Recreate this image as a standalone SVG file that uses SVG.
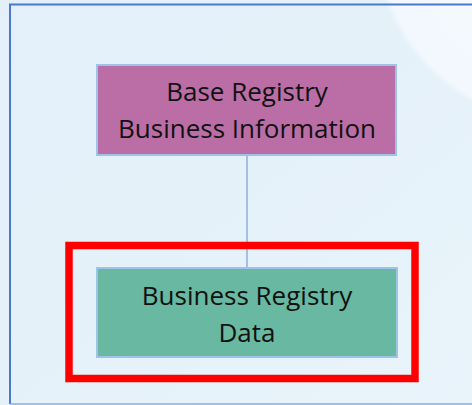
<svg xmlns="http://www.w3.org/2000/svg" width="472" height="405" viewBox="0 0 472 405">
<defs>
<linearGradient id="bg" x1="0" y1="0" x2="1" y2="1">
<stop offset="0" stop-color="#e3f0f9"/>
<stop offset="1" stop-color="#e8f3fa"/>
</linearGradient>
<radialGradient id="glow" cx="560" cy="-60" r="185" gradientUnits="userSpaceOnUse">
<stop offset="0" stop-color="#f7fbfe"/>
<stop offset="0.97" stop-color="#f2f8fd"/>
<stop offset="1" stop-color="#f2f8fd" stop-opacity="0"/>
</radialGradient>
</defs>
<style>
.node{stroke:#9dc3e6;stroke-width:2}
.lbl{font-family:"Open Sans","Liberation Sans",sans-serif;font-size:26px;fill:#111;text-anchor:middle}
</style>
<rect x="0" y="0" width="472" height="405" fill="url(#bg)"/>
<rect x="0" y="0" width="472" height="405" fill="url(#glow)"/>
<path d="M10 404 V4.5 H472" fill="none" stroke="#4a78cc" stroke-width="2"/>
<path d="M10 404 H472" fill="none" stroke="#8aaee0" stroke-width="1.5"/>
<g id="connectors">
<line x1="247" y1="155" x2="247" y2="268" stroke="#7ea6d8" stroke-width="1.3"/>
</g>
<g id="base-registry">
<rect class="node" x="97" y="65" width="299" height="90" fill="#bb6ea6"/>
<text class="lbl" x="247" y="101">Base Registry</text>
<text class="lbl" x="247" y="138">Business Information</text>
</g>
<g id="business-registry-data">
<rect class="node" x="97" y="268" width="300" height="89" fill="#69b8a2"/>
<text class="lbl" x="247" y="305">Business Registry</text>
<text class="lbl" x="247" y="342">Data</text>
</g>
<g id="highlight">
<rect x="69" y="245.5" width="346" height="133" fill="none" stroke="#ff0000" stroke-width="7.5"/>
</g>
</svg>
